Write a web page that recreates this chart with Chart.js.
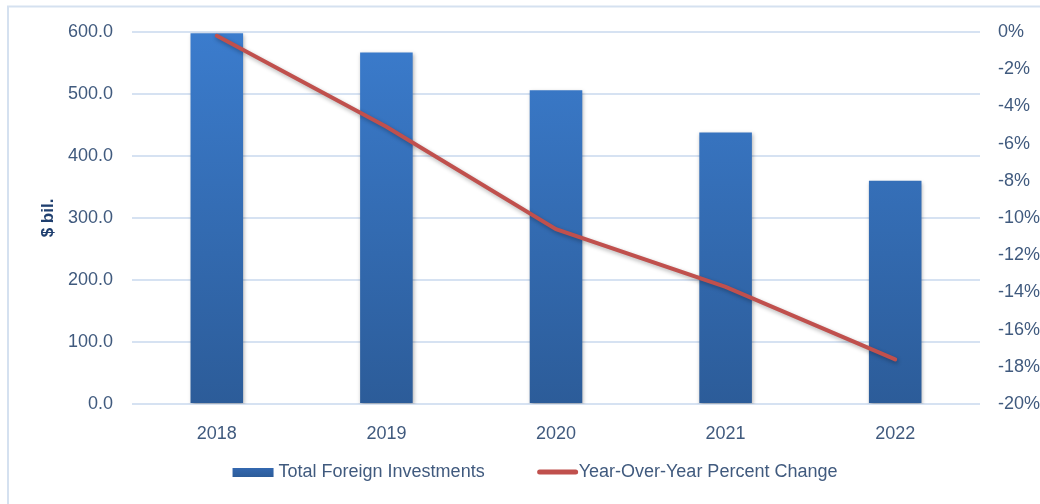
<!DOCTYPE html>
<html>
<head>
<meta charset="utf-8">
<title>Total Foreign Investments</title>
<script src="https://cdn.jsdelivr.net/npm/chart.js@4.4.1/dist/chart.umd.min.js"></script>
<style>
  html, body { margin: 0; padding: 0; background: #ffffff; }
  #wrap { position: relative; width: 1040px; height: 504px; }
</style>
</head>
<body>
<div id="wrap"><canvas id="chart"></canvas></div>
<script>
// values in $ bil. and year-over-year change in percent
const years = ["2018", "2019", "2020", "2021", "2022"];
const totalInvestments = [598, 567, 506, 438, 360];
const yoyChange = [-0.2, -5.1, -10.6, -13.7, -17.6];
const leftTicks = [0, 100, 200, 300, 400, 500, 600];
const rightTicks = [0, -2, -4, -6, -8, -10, -12, -14, -16, -18, -20];

const TICK_COLOR = "#405a7e";
const FONT = "'Liberation Sans', Arial, sans-serif";
const BAR_TOP = "#3b7ccd";
const BAR_BOTTOM = "#2c5c99";
const LINE_RED = "#c0504d";

function barGradient(context) {
  const chart = context.chart;
  const area = chart.chartArea;
  if (!area) return BAR_BOTTOM;
  const g = chart.ctx.createLinearGradient(0, area.top, 0, area.bottom);
  g.addColorStop(0, BAR_TOP);
  g.addColorStop(1, BAR_BOTTOM);
  return g;
}

// light outer frame around the chart
const framePlugin = {
  id: "frame",
  beforeDraw(chart) {
    const ctx = chart.ctx;
    ctx.save();
    ctx.strokeStyle = "#d5e1f0";
    ctx.lineWidth = 2;
    ctx.strokeRect(8, 6.5, chart.width + 20, chart.height + 20);
    ctx.restore();
  }
};

// soft drop shadow under bars and the line
const shadowPlugin = {
  id: "shadow",
  beforeDatasetDraw(chart) {
    const ctx = chart.ctx;
    ctx.save();
    ctx.shadowColor = "rgba(0,0,0,0.3)";
    ctx.shadowBlur = 4;
    ctx.shadowOffsetX = 1;
    ctx.shadowOffsetY = 2;
  },
  afterDatasetDraw(chart) {
    chart.ctx.restore();
  }
};

// legend under the x axis: bar series first, then the line
const legendPlugin = {
  id: "bottomLegend",
  afterDraw(chart) {
    const ctx = chart.ctx;
    const barSet = chart.data.datasets.find(d => d.type === "bar");
    const lineSet = chart.data.datasets.find(d => d.type === "line");
    const y = 472;
    ctx.save();
    ctx.font = "18px " + FONT;
    ctx.textBaseline = "middle";
    const w1 = ctx.measureText(barSet.label).width;
    const w2 = ctx.measureText(lineSet.label).width;
    const total = 41 + 5 + w1 + 55 + 36 + 3 + w2;
    let x = 535 - total / 2;

    const g = ctx.createLinearGradient(0, y - 4, 0, y + 5);
    g.addColorStop(0, "#3468b0");
    g.addColorStop(1, BAR_BOTTOM);
    ctx.fillStyle = g;
    ctx.fillRect(x, y - 4, 41, 9);
    x += 46;
    ctx.fillStyle = TICK_COLOR;
    ctx.fillText(barSet.label, x, y);
    x += w1 + 55;

    ctx.strokeStyle = lineSet.borderColor;
    ctx.lineWidth = 5;
    ctx.lineCap = "round";
    ctx.beginPath();
    ctx.moveTo(x, y);
    ctx.lineTo(x + 36, y);
    ctx.stroke();
    x += 39;
    ctx.fillText(lineSet.label, x, y);
    ctx.restore();
  }
};

new Chart(document.getElementById("chart"), {
  data: {
    labels: years,
    datasets: [
      {
        type: "line",
        label: "Year-Over-Year Percent Change",
        data: yoyChange,
        yAxisID: "y1",
        borderColor: LINE_RED,
        backgroundColor: LINE_RED,
        borderWidth: 4,
        borderCapStyle: "round",
        pointRadius: 0,
        tension: 0,
        order: 1
      },
      {
        type: "bar",
        label: "Total Foreign Investments",
        data: totalInvestments,
        yAxisID: "y",
        backgroundColor: barGradient,
        borderWidth: 0,
        barPercentage: 0.31,
        categoryPercentage: 1,
        order: 2
      }
    ]
  },
  options: {
    responsive: true,
    maintainAspectRatio: false,
    animation: false,
    layout: { padding: { top: 32, right: 0, bottom: 0, left: 0 } },
    plugins: {
      legend: { display: false },
      tooltip: { enabled: false }
    },
    scales: {
      x: {
        grid: { display: false },
        border: { display: false },
        ticks: {
          color: TICK_COLOR,
          font: { family: FONT, size: 18 },
          padding: 11
        },
        afterFit(scale) { scale.height = 100; }
      },
      y: {
        position: "left",
        min: 0,
        max: 600,
        afterBuildTicks(scale) { scale.ticks = leftTicks.map(v => ({ value: v })); },
        grid: { color: "#d6e2f2", lineWidth: 2, drawTicks: false },
        border: { display: false },
        ticks: {
          color: TICK_COLOR,
          font: { family: FONT, size: 18 },
          padding: 19,
          callback: v => v.toFixed(1)
        },
        title: {
          display: true,
          text: "$ bil.",
          color: "#1f3f6f",
          font: { family: FONT, size: 17, weight: "bold" },
          padding: { top: 38, bottom: 0 }
        },
        afterFit(scale) { scale.width = 132; }
      },
      y1: {
        position: "right",
        min: -20,
        max: 0,
        afterBuildTicks(scale) { scale.ticks = rightTicks.map(v => ({ value: v })); },
        grid: { display: false, drawTicks: false },
        border: { display: false },
        ticks: {
          color: TICK_COLOR,
          font: { family: FONT, size: 18 },
          padding: 18,
          callback: v => v + "%"
        },
        afterFit(scale) { scale.width = 60; }
      }
    }
  },
  plugins: [framePlugin, shadowPlugin, legendPlugin]
});
</script>
</body>
</html>
